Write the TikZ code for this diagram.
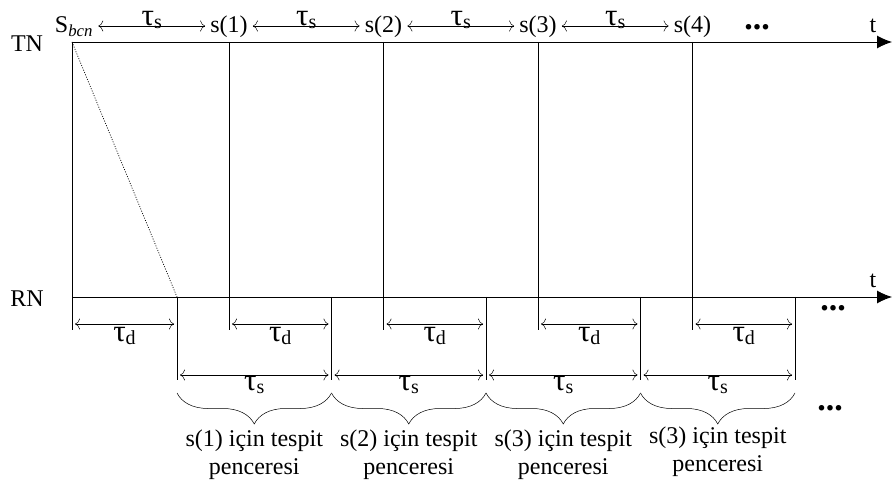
\documentclass[tikz,border=0pt]{standalone}
\usepackage{fontspec}
\setmainfont{Liberation Serif}
\usetikzlibrary{arrows, arrows.meta, positioning, decorations.pathreplacing}

\newcommand{\tauof}[1]{{\fontsize{31}{31}\selectfont τ}\raisebox{-3pt}{\fontsize{20}{20}\selectfont #1}}

\begin{document}
\begin{tikzpicture}[x=1pt, y=-1pt, font=\fontsize{24}{27}\selectfont]
        \tikzstyle{lbl} = [inner sep=1pt]
        \tikzstyle{axis} = [draw, -{Latex[length=15pt, width=13pt]}, line width=0.9pt]
        \tikzstyle{span} = [draw, {To[length=5pt, width=11pt]}-{To[length=5pt, width=11pt]}, line width=0.5pt]
        \tikzstyle{tick} = [draw, line width=0.5pt]
        \tikzstyle{dots} = [inner sep=0pt, font=\bfseries\fontsize{34}{34}\selectfont]
        \tikzstyle{window} = [align=center, font=\fontsize{24}{28}\selectfont]

        \useasboundingbox (0,0) rectangle (892,489);

        % time axes
        \node [lbl] (tn) at (27,44) {TN};
        \node [lbl] (rn) at (27,299) {RN};
        \coordinate (tn0) at (72,42);
        \coordinate (tn1) at (892,42);
        \coordinate (rn0) at (72,297);
        \coordinate (rn1) at (892,297);
        \path [axis] (tn0) -- (tn1);
        \path [axis] (rn0) -- (rn1);
        \node [lbl] (ttn) at (873,26) {t};
        \node [lbl] (trn) at (873,281) {t};

        % beacon and symbols on TN
        \node [lbl, anchor=base] (s0) at (74,33) {S\textsubscript{\textit{bcn}}};
        \coordinate (c0) at (72,330);
        \path [tick] (tn0) -- (c0);
        \foreach \i in {1,...,4} {
            \node [lbl, anchor=base] (s\i) at ({229+154.5*(\i-1)},33) {s(\i)};
            \coordinate (a\i) at ({229+154.5*(\i-1)},42);
            \coordinate (c\i) at ({229+154.5*(\i-1)},330);
            \path [tick] (a\i) -- (c\i);
        }
        \foreach \i [evaluate=\i as \j using int(\i-1)] in {1,...,4} {
            \path [span] ([xshift=4pt]s\j.east |- 0,26) -- node [lbl, above=-4pt] {\tauof{s}} ([xshift=-4pt]s\i.west |- 0,26);
        }
        \node [dots] (dtop) at (757,27) {...};

        % detection windows on RN
        \coordinate (w0) at (177,297);
        \draw [dash pattern=on 1pt off 1.5pt, line width=0.7pt] (tn0) -- (w0);
        \foreach \i in {0,...,4} {
            \coordinate (w\i) at ({177+154.5*\i},297);
            \coordinate (b\i) at ({177+154.5*\i},380);
            \path [tick] (w\i) -- (b\i);
        }
        \path [span] ([xshift=3pt]c0 |- 0,324) -- node [lbl, below=2pt] {\tauof{d}} ([xshift=-3pt]w0 |- 0,324);
        \foreach \i [evaluate=\i as \j using int(\i-1)] in {1,...,4} {
            \path [span] ([xshift=3pt]c\i |- 0,324) -- node [lbl, below=2pt] {\tauof{d}} ([xshift=-3pt]w\i |- 0,324);
            \path [span] ([xshift=3pt]b\j |- 0,375) -- node [lbl, below=0pt] {\tauof{s}} ([xshift=-3pt]b\i |- 0,375);
        }
        \foreach \i/\k/\dy in {1/1/0, 2/2/0, 3/3/0, 4/3/3} {
            \pgfmathtruncatemacro{\j}{\i-1}
            \draw [decorate, decoration={brace, mirror, amplitude=31pt}, line width=0.5pt]
                (b\j |- 0,393) -- node [window, below=33pt, yshift=\dy pt] (win\i) {s(\k) için tespit\\penceresi} (b\i |- 0,393);
        }
        \node [dots] (drn) at (833,308) {...};
        \node [dots] (dbot) at (830,408) {...};
    \end{tikzpicture}
\end{document}
